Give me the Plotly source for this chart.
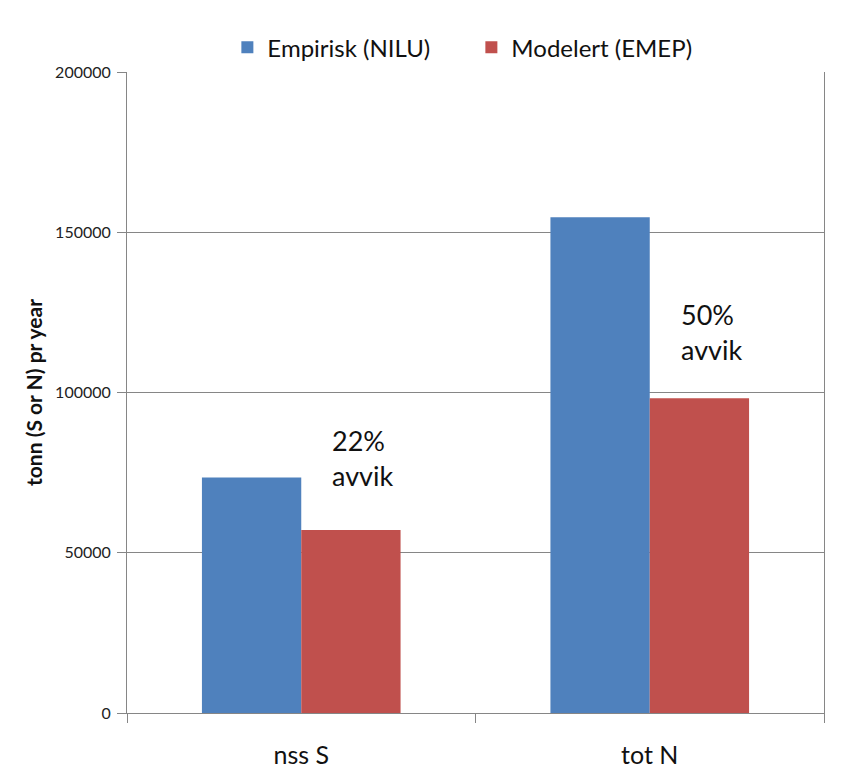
import plotly.graph_objects as go

categories = ["nss S", "tot N"]
empirisk = [73500, 154700]
modelert = [57100, 98200]
series_names = ["Empirisk (NILU)", "Modelert (EMEP)"]
annot_texts = ["22%<br>avvik", "50%<br>avvik"]
annot_y = [79500, 119000]
y_ticks = [0, 50000, 100000, 150000, 200000]

FONT = "Lato, 'Open Sans', sans-serif"

fig = go.Figure()
fig.add_bar(x=categories, y=empirisk, name=series_names[0], marker_color="#4F81BD", marker_line_width=0)
fig.add_bar(x=categories, y=modelert, name=series_names[1], marker_color="#C0504D", marker_line_width=0)

for i, (t, yv) in enumerate(zip(annot_texts, annot_y)):
    fig.add_annotation(x=i, y=yv, text=t, xref="x", yref="y", showarrow=False,
                       xanchor="left", yanchor="middle", xshift=29, align="left",
                       font=dict(size=27, color="#111111", family=FONT))

# page body has an 8px default margin, so the figure is sized to fit inside it
fig.update_layout(
    width=827, height=765,
    margin=dict(l=119, r=11, t=64, b=60, autoexpand=False),
    paper_bgcolor="white", plot_bgcolor="white",
    barmode="group", bargap=0.43, bargroupgap=0,
    font=dict(family=FONT, color="#222222"),
    legend=dict(orientation="h", x=0.144, xanchor="left", y=1.003, yanchor="bottom",
                font=dict(size=24, color="#111111"), traceorder="normal",
                entrywidth=199, entrywidthmode="pixels"),
    showlegend=True,
)
fig.update_xaxes(
    type="category", showline=True, linecolor="#868686", linewidth=1,
    ticks="outside", tickson="boundaries", ticklen=9, tickcolor="#868686",
    tickfont=dict(size=25, color="#111111"), showgrid=False, mirror=False,
    automargin=False, ticklabelstandoff=20,
)
fig.update_yaxes(
    range=[0, 200000], tickvals=y_ticks, ticktext=[str(v) for v in y_ticks],
    showgrid=True, gridcolor="#868686", gridwidth=1,
    showline=True, linecolor="#868686", linewidth=1, mirror=True,
    ticks="outside", ticklen=9, tickcolor="#868686", ticklabelstandoff=3,
    tickfont=dict(size=16, color="#222222"), zeroline=False, automargin=False,
    title=dict(text="<b>tonn (S or N) pr year</b>", font=dict(size=21, color="#111111"), standoff=6),
)

fig.write_html("out.html")
